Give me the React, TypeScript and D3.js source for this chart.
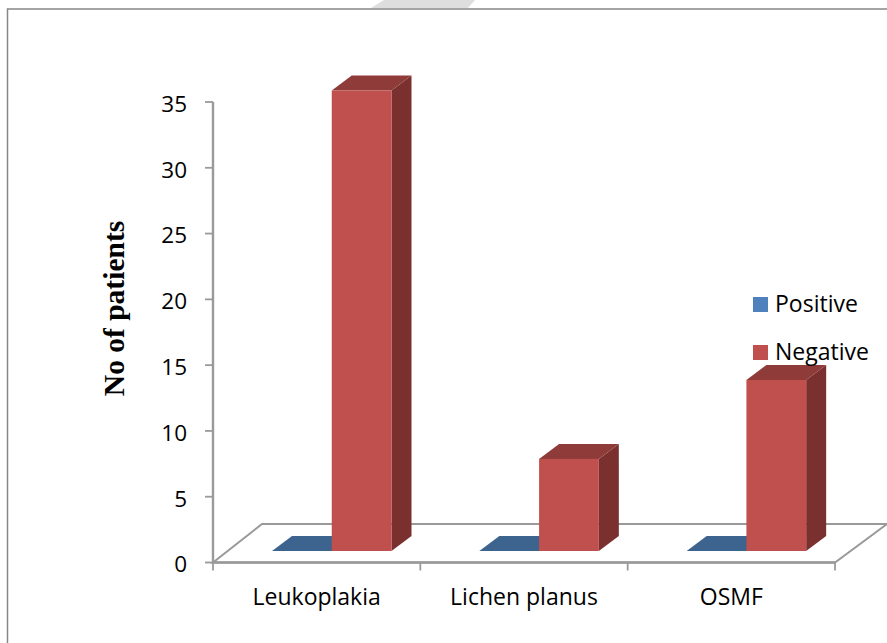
import React from "react";
import * as d3 from "d3";

const categories = ["Leukoplakia", "Lichen planus", "OSMF"];
const seriesNames = ["Positive", "Negative"];
const positive = [0, 0, 0];
const negative = [35, 7, 13];
const yTicks = [0, 5, 10, 15, 20, 25, 30, 35];

const colors: Record<string, { front: string; top: string; side: string; legend: string }> = {
  Positive: { front: "#4f81bd", top: "#3d638f", side: "#2f4d70", legend: "#4f81bd" },
  Negative: { front: "#c0504d", top: "#8f3b39", side: "#7a302e", legend: "#c0504d" },
};

const labelFont = "'Open Sans', 'Noto Sans', sans-serif";

const App = () => {
  const width = 887;
  const height = 643;

  const x = d3.scaleBand<string>().domain(categories).range([213, 835]);
  const y = d3.scaleLinear().domain([0, 35]).range([562.5, 102]);
  const inner = d3.scaleBand<string>().domain(seriesNames).range([59, 178.5]);

  // floor depth and bar depth of the fake 3d
  const floorDx = 49;
  const floorDy = 38.5;
  const barDx = 20;
  const barDy = 15;
  const baseLift = 11.5;

  const axisColor = "#9a9a9a";
  const axisLeft = x.range()[0];
  const axisRight = x.range()[1];
  const y0 = y(0);
  const xTickPositions = [...categories.map((c) => x(c) as number), axisRight];

  const rows = [
    { name: "Positive", values: positive },
    { name: "Negative", values: negative },
  ];

  return (
    <svg
      width={width}
      height={height}
      style={{ position: "fixed", left: 0, top: 0, background: "#fff" }}
    >
      {/* grey corner of the page behind the chart */}
      <polygon points="371,8 384,0 475,0 468,8" fill="#dedede" />
      <polyline
        points={`7.5,${height} 7.5,9 ${width},9`}
        fill="none"
        stroke="#878787"
        strokeWidth={1.5}
      />

      {/* floor */}
      <polygon
        points={`${axisLeft},${y0} ${axisLeft + floorDx},${y0 - floorDy} ${axisRight + floorDx + 3},${y0 - floorDy} ${axisRight},${y0}`}
        fill="#fff"
        stroke={axisColor}
        strokeWidth={2}
      />

      {/* y axis */}
      <line x1={axisLeft} x2={axisLeft} y1={y(35)} y2={y0} stroke={axisColor} strokeWidth={2.4} />
      {yTicks.map((t) => (
        <g key={t}>
          <line x1={axisLeft - 8} x2={axisLeft} y1={y(t)} y2={y(t)} stroke={axisColor} strokeWidth={1.8} />
          <text
            x={187}
            y={y(t) + 2}
            dy="0.35em"
            textAnchor="end"
            fontFamily={labelFont}
            fontSize={22.5}
            fill="#000"
          >
            {t}
          </text>
        </g>
      ))}

      {/* x axis */}
      <line x1={axisLeft} x2={axisRight} y1={y0} y2={y0} stroke={axisColor} strokeWidth={2.4} />
      {xTickPositions.map((p) => (
        <line key={p} x1={p} x2={p} y1={y0} y2={y0 + 8} stroke={axisColor} strokeWidth={1.8} />
      ))}
      {categories.map((c) => (
        <text
          key={c}
          x={(x(c) as number) + x.bandwidth() / 2}
          y={605}
          textAnchor="middle"
          fontFamily={labelFont}
          fontSize={23}
          fill="#000"
        >
          {c}
        </text>
      ))}

      {/* bars */}
      {rows.map((s) =>
        s.values.map((v, i) => {
          const left = (x(categories[i]) as number) + (inner(s.name) as number);
          const right = left + inner.bandwidth();
          const bottom = y0 - baseLift;
          const top = y(v) - baseLift;
          const c = colors[s.name];
          return (
            <g key={s.name + i}>
              <polygon
                points={`${right},${top} ${right + barDx},${top - barDy} ${right + barDx},${bottom - barDy} ${right},${bottom}`}
                fill={c.side}
              />
              <polygon
                points={`${left},${top} ${left + barDx},${top - barDy} ${right + barDx},${top - barDy} ${right},${top}`}
                fill={c.top}
              />
              <rect x={left} y={top} width={inner.bandwidth()} height={bottom - top} fill={c.front} />
            </g>
          );
        })
      )}

      {/* y title */}
      <text
        transform="translate(124,308.5) rotate(-90)"
        textAnchor="middle"
        fontFamily="'Liberation Serif', serif"
        fontWeight="bold"
        fontSize={29.5}
        fill="#000"
      >
        No of patients
      </text>

      {/* legend */}
      {seriesNames.map((name, i) => (
        <g key={name} transform={`translate(753,${297 + i * 48})`}>
          <rect width={15} height={15} fill={colors[name].legend} />
          <text x={22} y={6.5} dy="0.35em" fontFamily={labelFont} fontSize={23} fill="#000">
            {name}
          </text>
        </g>
      ))}
    </svg>
  );
};

export default App;
